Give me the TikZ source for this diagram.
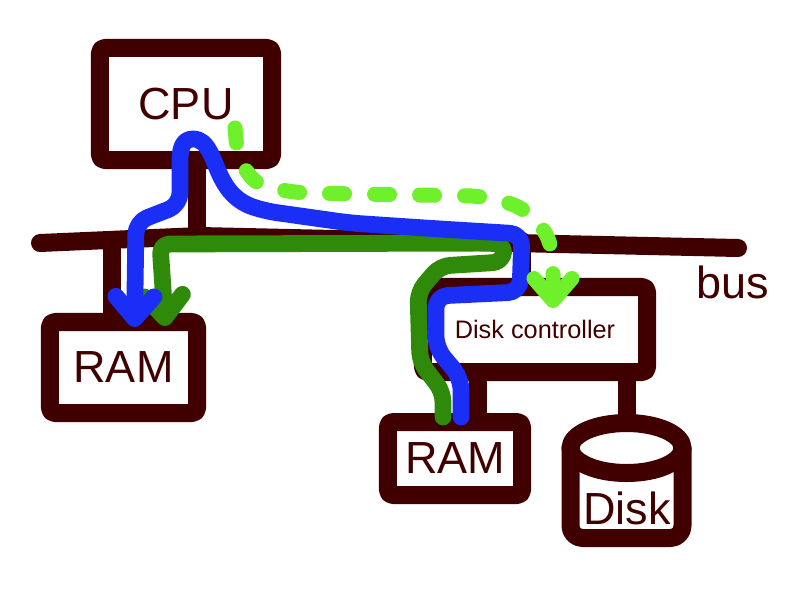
\documentclass[tikz,border=0pt]{standalone}
\usepackage{fontspec}
\setmainfont{Liberation Sans}
\usetikzlibrary{calc, arrows.meta}
\definecolor{ink}{RGB}{64,0,0}
\definecolor{cpublue}{RGB}{26,46,245}
\definecolor{dmagreen}{RGB}{46,138,8}
\definecolor{ctrlgreen}{RGB}{110,240,42}

\begin{document}
\begin{tikzpicture}[x=0.025cm, y=-0.025cm,
  every node/.style={font=\fontsize{32}{36}\selectfont, text=ink},
  unit/.style={draw=ink, line width=0.45cm, rounded corners=0.12cm, line join=round, inner sep=0pt, outer sep=0pt},
  wire/.style={draw=ink, line width=0.45cm, line cap=round, line join=round},
  flow/.style={line width=0.42cm, line cap=round, line join=round, rounded corners=0.3cm},
  tip/.style={-{Straight Barb[length=0.55cm, width=0.95cm, round]}}]
\useasboundingbox (0,0) rectangle (800,600);
\node[unit, minimum width=4.3cm, minimum height=2.8cm] (cpu) at (186,104) {CPU};
\node[unit, minimum width=3.675cm, minimum height=2.275cm] (ram1) at (123.5,367.5) {RAM};
\node[unit, minimum width=5.6cm, minimum height=2.125cm, font=\fontsize{18}{20}\selectfont] (ctrl) at (535,329.5) {Disk controller};
\node[unit, minimum width=3.35cm, minimum height=1.825cm] (ram2) at (455,458.5) {RAM};
\node (disk) at (627,508) {Disk};
\node (buslabel) at (733,282) {bus};
\coordinate (busL) at (40,243);
\coordinate (busM) at (200,236);
\coordinate (busR) at (738,248);
\coordinate (disktop) at (626.5,423);
\draw[wire] (busL) -- (busM) -- (busR);
\draw[wire] ([xshift=0.275cm]cpu.south) -- ++(0,78);
\draw[wire] ([xshift=-0.29cm]ram1.north) -- ++(0,-82);
\draw[wire] ([xshift=-0.325cm]ctrl.north) -- ++(0,-46);
\draw[wire] ([xshift=0.575cm]ram2.north) -- ++(0,-50);
\draw[wire] (ctrl.south -| disktop) -- (disktop);
\draw[wire] (626.5,448) ellipse [x radius=56, y radius=25];
\draw[wire, rounded corners=0.3cm] (570.5,448) -- (570.5,538) -- (682.5,538) -- (682.5,448);
\draw[flow, dmagreen, tip, rounded corners=0.25cm] ($(ram2.north)+(-12,-5)$) -- (443,392) -- (420,362) -- (418,292) -- (440,266) -- (503,262) -- (504,243) -- (160,244) -- ($(ram1.north)+(42,4)$);
\draw[flow, cpublue, tip] ($(ram2.north)+(6,-5)$) -- (461,378) -- (436,348) -- (436,296) -- (520,292) -- (522,234) -- (440,229) -- (350,223) -- (265,211)
  [sharp corners] .. controls (238,202) and (228,192) .. (220,175) .. controls (212,158) and (208,139) .. (193,139) .. controls (183,139) and (180,148) .. (180,160)
  [rounded corners=0.3cm] -- (180,205) -- (136,222) -- ($(ram1.north)+(11,5)$);
\draw[flow, ctrlgreen, tip, line width=0.375cm, dash pattern=on 0.375cm off 0.75cm] ($(cpu.center)+(49,24)$) -- (238,160) -- (258,186) -- (300,193) -- (480,196) -- (520,206) -- (544,228) -- (553,252) -- ($(ctrl.north)+(18,21)$);
\end{tikzpicture}
\end{document}
